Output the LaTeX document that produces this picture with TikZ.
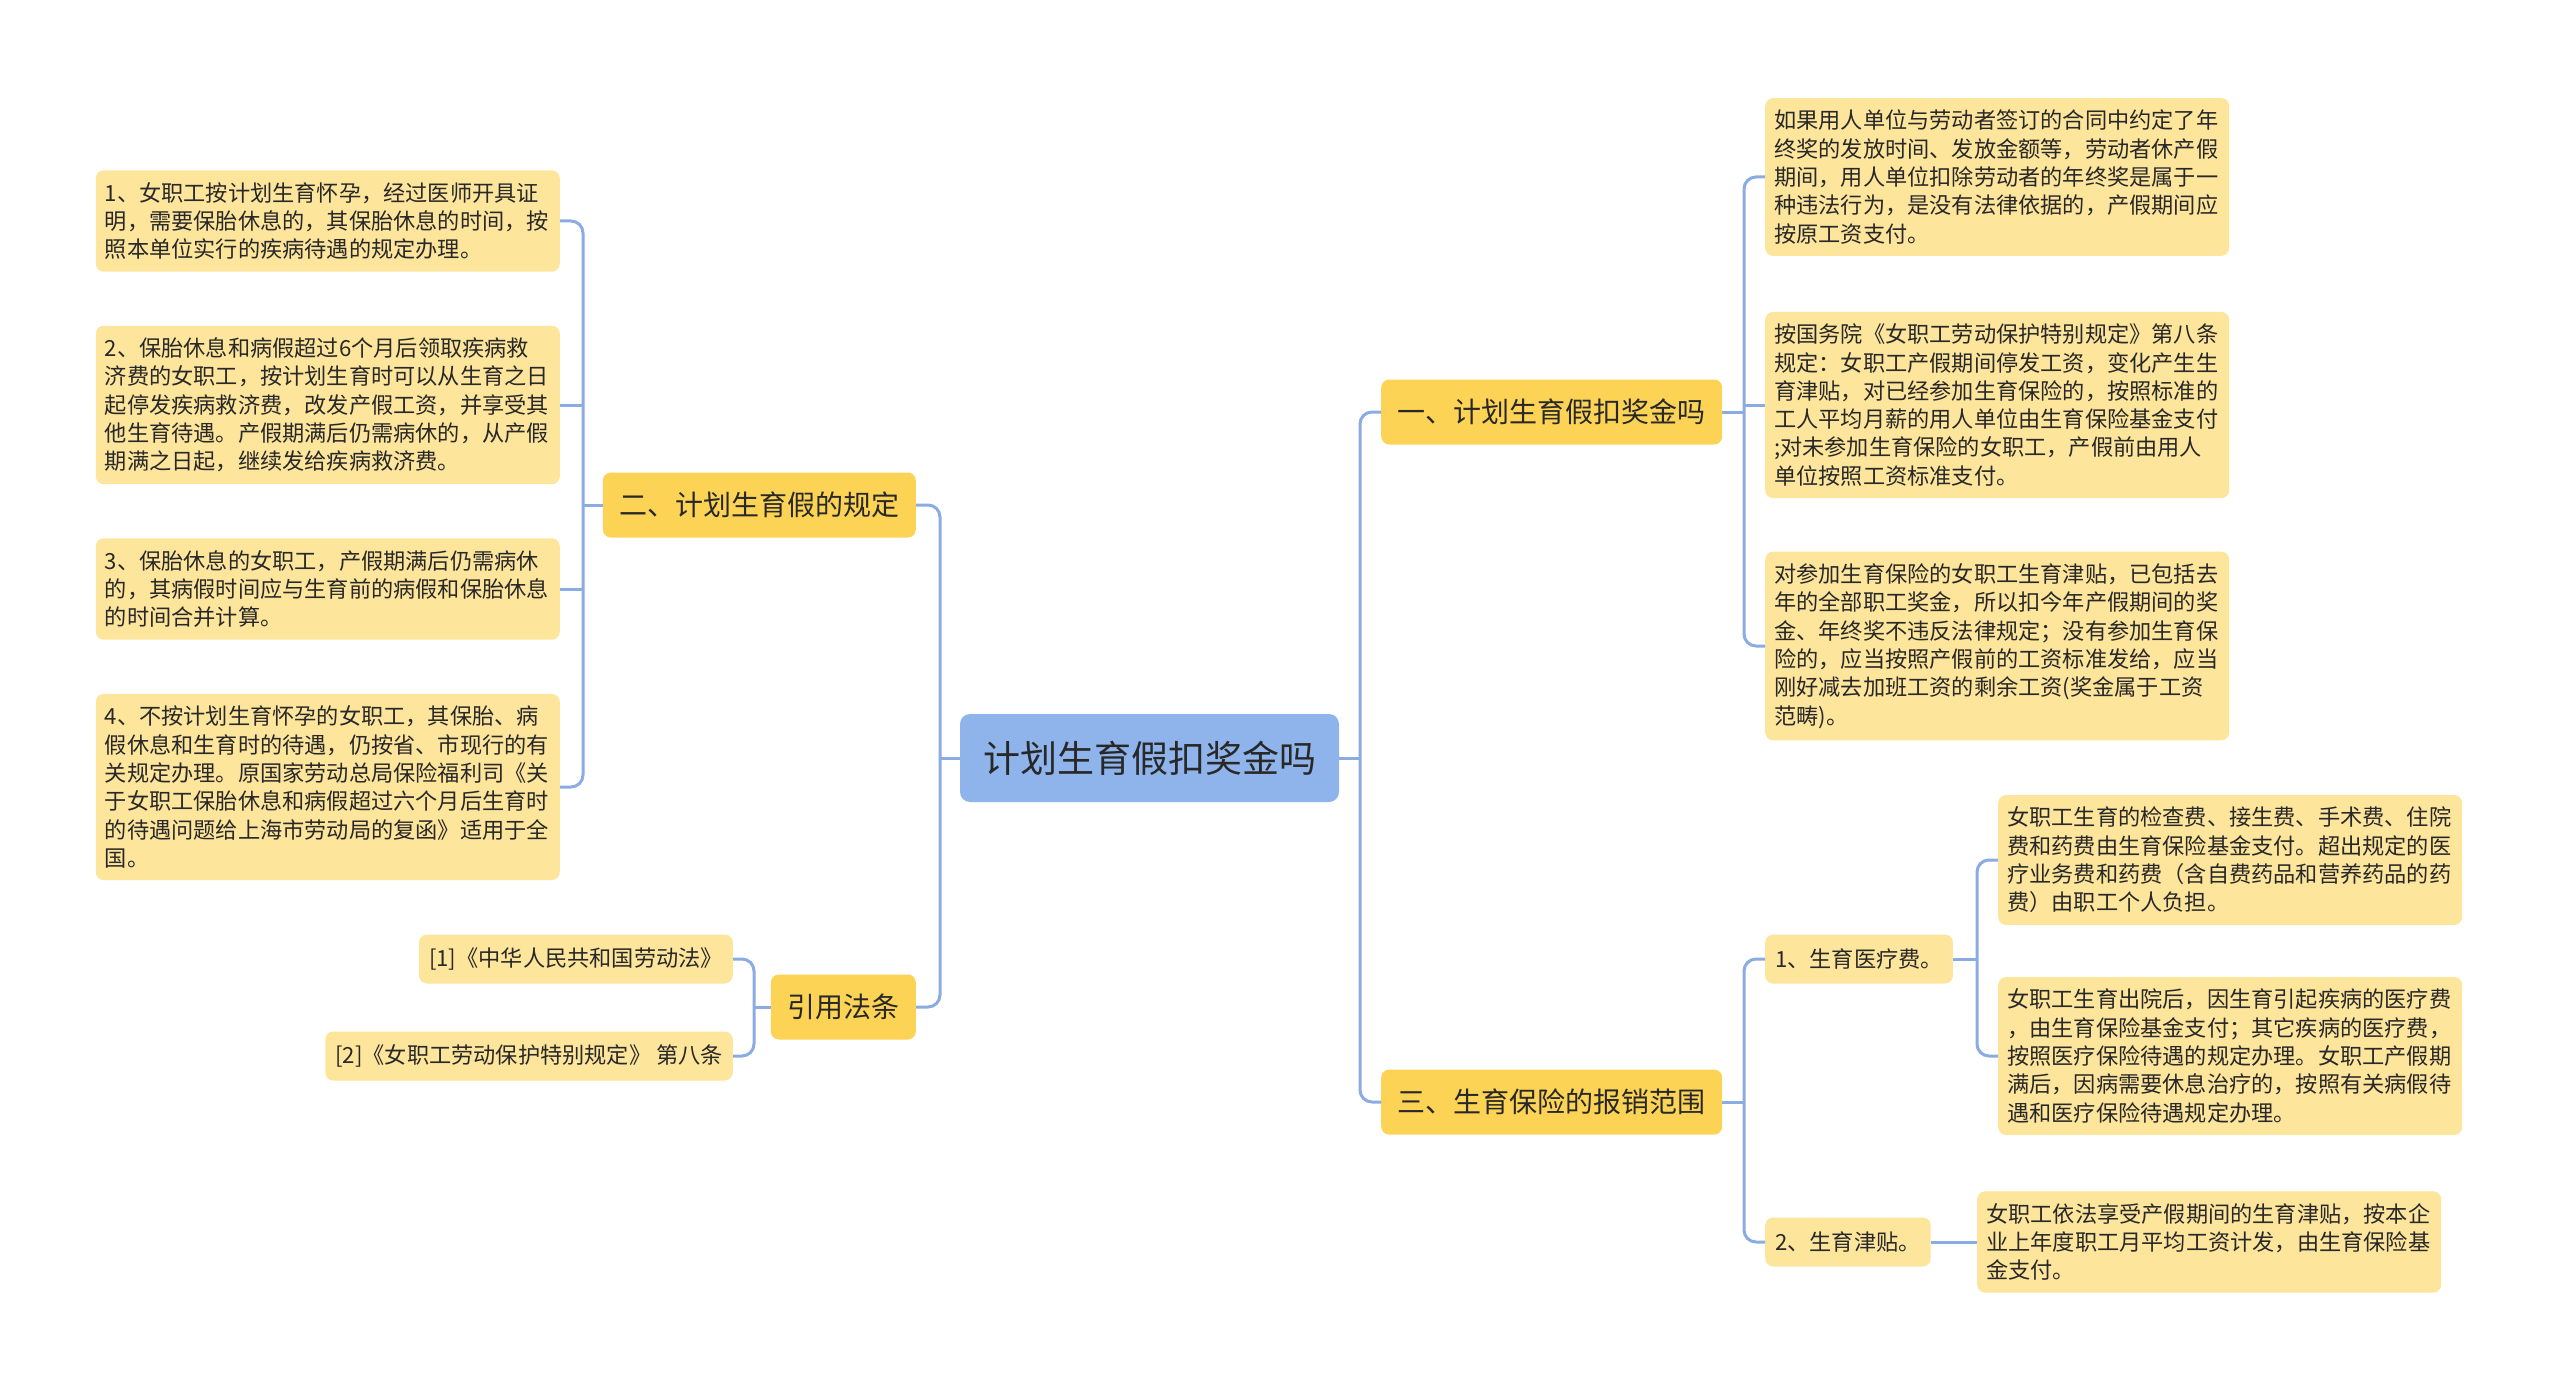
\documentclass[tikz,border=0pt]{standalone}
\usepackage{fontspec}
\setmainfont{Noto Sans CJK SC}
\usetikzlibrary{calc}
\definecolor{linec}{RGB}{139,172,226}
\definecolor{rootc}{RGB}{143,179,235}
\definecolor{branchc}{RGB}{253,211,85}
\definecolor{leafc}{RGB}{253,229,156}
\definecolor{txtc}{RGB}{40,40,40}
\tikzset{
 conn/.style={draw=linec, line width=3pt, rounded corners=12pt},
 root/.style={fill=rootc, rounded corners=10pt, text=txtc, font=\fontsize{37pt}{44pt}\selectfont, minimum width=379pt, minimum height=88pt, inner sep=0pt},
 branch/.style={fill=branchc, rounded corners=8pt, text=txtc, font=\fontsize{28pt}{34pt}\selectfont, minimum height=65pt, inner xsep=16.5pt, inner ysep=0pt},
 leaf/.style={fill=leafc, rounded corners=8pt, text=txtc, font=\fontsize{22.2pt}{28.3pt}\selectfont, text width=446pt, align=left, inner xsep=9pt, inner ysep=12pt},
 small/.style={fill=leafc, rounded corners=8pt, text=txtc, font=\fontsize{22.2pt}{28.3pt}\selectfont, minimum height=49pt, inner xsep=10pt, inner ysep=0pt},
}
\begin{document}
\begin{tikzpicture}[x=1pt,y=1pt]
\useasboundingbox (0,0) rectangle (2560,-1391);
\fill[white] (0,0) rectangle (2560,-1391);
% root
\node[root] (c) at (1149.5,-758) {计划生育假扣奖金吗};
% branches
\node[branch, anchor=west] (b1) at (1381,-412) {一、计划生育假扣奖金吗};
\node[branch, anchor=west] (b3) at (1381,-1102) {三、生育保险的报销范围};
\node[branch, anchor=east] (b2) at (916,-505) {二、计划生育假的规定};
\node[branch, anchor=east] (b4) at (916,-1007) {引用法条};
% left leaves
\node[leaf, anchor=east] (l1) at (560,-221) {1、女职工按计划生育怀孕，经过医师开具证\\明，需要保胎休息的，其保胎休息的时间，按\\照本单位实行的疾病待遇的规定办理。};
\node[leaf, anchor=east] (l2) at (560,-405) {2、保胎休息和病假超过6个月后领取疾病救\\济费的女职工，按计划生育时可以从生育之日\\起停发疾病救济费，改发产假工资，并享受其\\他生育待遇。产假期满后仍需病休的，从产假\\期满之日起，继续发给疾病救济费。};
\node[leaf, anchor=east] (l3) at (560,-589) {3、保胎休息的女职工，产假期满后仍需病休\\的，其病假时间应与生育前的病假和保胎休息\\的时间合并计算。};
\node[leaf, anchor=east] (l4) at (560,-787) {4、不按计划生育怀孕的女职工，其保胎、病\\假休息和生育时的待遇，仍按省、市现行的有\\关规定办理。原国家劳动总局保险福利司《关\\于女职工保胎休息和病假超过六个月后生育时\\的待遇问题给上海市劳动局的复函》适用于全\\国。};
% references
\node[small, anchor=east] (r1) at (733,-959) {[1]《中华人民共和国劳动法》};
\node[small, anchor=east] (r2) at (733,-1056) {[2]《女职工劳动保护特别规定》 第八条};
% right leaves of b1
\node[leaf, anchor=west] (a1) at (1765,-177) {如果用人单位与劳动者签订的合同中约定了年\\终奖的发放时间、发放金额等，劳动者休产假\\期间，用人单位扣除劳动者的年终奖是属于一\\种违法行为，是没有法律依据的，产假期间应\\按原工资支付。};
\node[leaf, anchor=west] (a2) at (1765,-405) {按国务院《女职工劳动保护特别规定》第八条\\规定：女职工产假期间停发工资，变化产生生\\育津贴，对已经参加生育保险的，按照标准的\\工人平均月薪的用人单位由生育保险基金支付\\;对未参加生育保险的女职工，产假前由用人\\单位按照工资标准支付。};
\node[leaf, anchor=west] (a3) at (1765,-646) {对参加生育保险的女职工生育津贴，已包括去\\年的全部职工奖金，所以扣今年产假期间的奖\\金、年终奖不违反法律规定；没有参加生育保\\险的，应当按照产假前的工资标准发给，应当\\刚好减去加班工资的剩余工资(奖金属于工资\\范畴)。};
% b3 children
\node[small, anchor=west] (s1) at (1765,-959) {1、生育医疗费。};
\node[small, anchor=west] (s2) at (1765,-1242) {2、生育津贴。};
\node[leaf, anchor=west] (s1a) at (1998,-860) {女职工生育的检查费、接生费、手术费、住院\\费和药费由生育保险基金支付。超出规定的医\\疗业务费和药费（含自费药品和营养药品的药\\费）由职工个人负担。};
\node[leaf, anchor=west] (s1b) at (1998,-1056) {女职工生育出院后，因生育引起疾病的医疗费\\，由生育保险基金支付；其它疾病的医疗费，\\按照医疗保险待遇的规定办理。女职工产假期\\满后，因病需要休息治疗的，按照有关病假待\\遇和医疗保险待遇规定办理。};
\node[leaf, anchor=west] (s2a) at (1977,-1242) {女职工依法享受产假期间的生育津贴，按本企\\业上年度职工月平均工资计发，由生育保险基\\金支付。};
% trunk coordinates
\coordinate (tR0) at (1360,0);
\coordinate (tL0) at (940,0);
\coordinate (tL1) at (583,0);
\coordinate (tL2) at (754,0);
\coordinate (tR1) at (1744,0);
\coordinate (tR2) at (1977,0);
% root connectors
\draw[conn] (c.east) -- (c.east -| tR0);
\draw[conn] (b1.west) -| (c.east -| tR0) |- (b3.west);
\draw[conn] (c.west) -- (c.west -| tL0);
\draw[conn] (b2.east) -| (c.west -| tL0) |- (b4.east);
% b2 connectors
\draw[conn] (b2.west) -- (b2.west -| tL1);
\draw[conn] (l1.east) -| (b2.west -| tL1) |- (l4.east);
\draw[conn] (l2.east) -- (l2.east -| tL1);
\draw[conn] (l3.east) -- (l3.east -| tL1);
% b4 connectors
\draw[conn] (b4.west) -- (b4.west -| tL2);
\draw[conn] (r1.east) -| (b4.west -| tL2) |- (r2.east);
% b1 connectors
\draw[conn] (b1.east) -- (b1.east -| tR1);
\draw[conn] (a1.west) -| (b1.east -| tR1) |- (a3.west);
\draw[conn] (a2.west) -- (a2.west -| tR1);
% b3 connectors
\draw[conn] (b3.east) -- (b3.east -| tR1);
\draw[conn] (s1.west) -| (b3.east -| tR1) |- (s2.west);
% s1 connectors
\draw[conn] (s1.east) -- (s1.east -| tR2);
\draw[conn] (s1a.west) -| (s1.east -| tR2) |- (s1b.west);
% s2 connector
\draw[conn] (s2.east) -- (s2a.west);
\end{tikzpicture}
\end{document}
